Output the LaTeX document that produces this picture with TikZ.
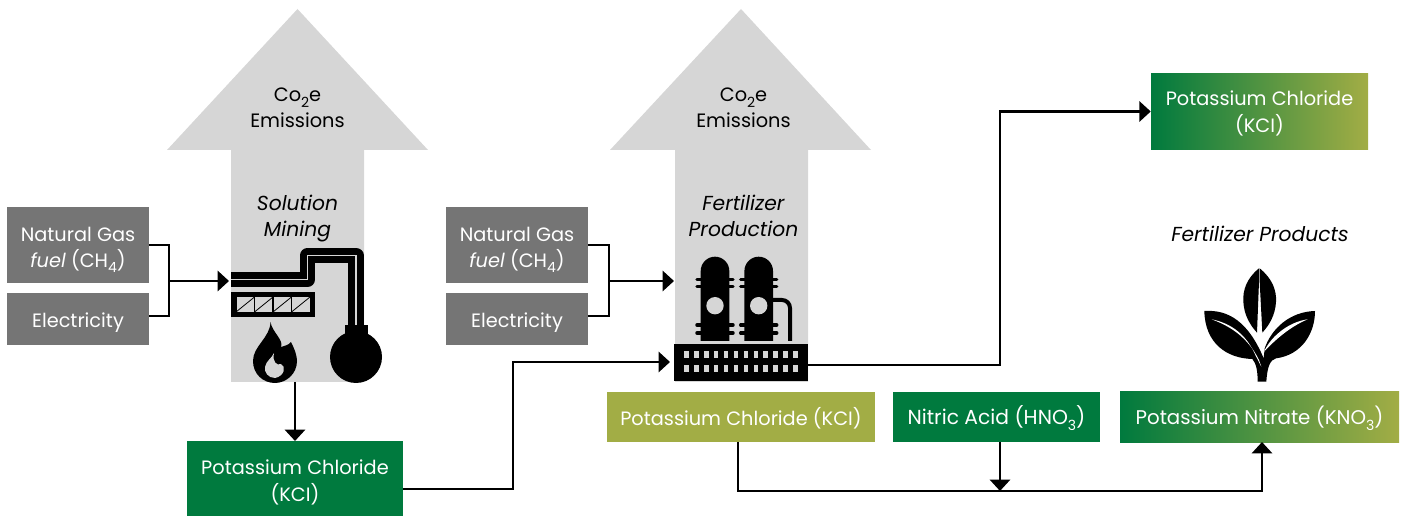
\documentclass[tikz,border=0pt]{standalone}
\usepackage{fontspec}
\setmainfont{Poppins}
\usetikzlibrary{arrows.meta}
\definecolor{emitgray}{HTML}{D6D6D6}
\definecolor{inputgray}{HTML}{757575}
\definecolor{kclgreen}{HTML}{007A3E}
\definecolor{kclolive}{HTML}{A2AD45}
\newcommand{\lowsub}[1]{\raisebox{-.5ex}{\fontsize{10.5}{10.5}\selectfont #1}}
\tikzset{
  firstline/.style={execute at begin node={\rule{0pt}{#1}}},
  label/.style={font=\fontsize{14.5}{19.5}\selectfont,align=center,text=black,inner sep=0pt,firstline=16pt},
  tasklabel/.style={label,font=\fontsize{15.2}{19.5}\selectfont\itshape},
  boxlabel/.style={label,text=white},
  inputbox/.style={boxlabel,fill=inputgray,minimum width=106.5pt},
  greenbox/.style={boxlabel,fill=kclgreen},
  olivebox/.style={boxlabel,fill=kclolive},
  fadebox/.style={boxlabel,left color=kclgreen,right color=kclolive},
  flow/.style={line width=2.1pt,black},
  flowarrow/.style={flow,-{Triangle[length=8.5pt,width=15pt]}},
  emission/.style={fill=emitgray,draw=none}
}
\begin{document}
\begin{tikzpicture}[x=.75pt,y=-.75pt]
\useasboundingbox (0,0) rectangle (1410,516);
% emission arrows
\fill[emission] (297.5,9)--(428,150)--(364,150)--(364,382)--(231,382)--(231,150)--(167,150)--cycle;
\fill[emission] (741,9)--(871,150)--(808,150)--(808,382)--(675,382)--(675,150)--(610,150)--cycle;
\node[label] (co1) at (297.5,108) {Co\lowsub{2}e\\Emissions};
\node[label] (co2) at (743.5,108) {Co\lowsub{2}e\\Emissions};
\node[tasklabel] (mininglabel) at (297.5,218.5) {Solution\\Mining};
\node[tasklabel] (prodlabel) at (743.5,215.5) {Fertilizer\\Production};
\node[tasklabel] (prodlist) at (1260,231) {Fertilizer Products};
% input boxes
\node[inputbox,firstline=38pt,minimum height=57pt] (gas1) at (78,245) {Natural Gas\\\textit{fuel} (CH\lowsub{4})};
\node[inputbox,minimum height=39pt] (elec1) at (78,319) {Electricity};
\node[inputbox,firstline=38pt,minimum height=57pt] (gas2) at (517,245) {Natural Gas\\\textit{fuel} (CH\lowsub{4})};
\node[inputbox,minimum height=39pt] (elec2) at (517,319) {Electricity};
% product boxes
\node[greenbox,firstline=37.5pt,font=\fontsize{14.5}{20.5}\selectfont,minimum width=162pt,minimum height=56.25pt] (kcl1) at (295,478.5) {Potassium Chloride\\(KCI)};
\node[fadebox,firstline=34.5pt,font=\fontsize{14.5}{20.5}\selectfont,minimum width=162.75pt,minimum height=57.25pt] (kcl2) at (1259.5,111.5) {Potassium Chloride\\(KCI)};
\node[olivebox,minimum width=201pt,minimum height=37.5pt] (kcl3) at (741,417) {Potassium Chloride (KCI)};
\node[greenbox,font=\fontsize{15.2}{19.5}\selectfont,minimum width=155.25pt,minimum height=37.5pt] (nitric) at (996.5,417) {Nitric Acid (HNO\lowsub{3})};
\node[fadebox,font=\fontsize{14.85}{19.5}\selectfont,minimum width=209.25pt,minimum height=37.5pt] (kno) at (1259.5,417) {Potassium Nitrate (KNO\lowsub{3})};
% mining icon
\begin{scope}
\draw[line width=11.5pt,line join=round,black] (231,279.5)-|(307.5,255.5)-|(356,326);
\draw[line width=1.4pt,emitgray] (231,279.5)-|(307.5,255.5)-|(356,326);
\fill[black] (231,292) rectangle (315,317);
\fill[emitgray] (236,297) rectangle (310,312);
\foreach \x in {236,254.5,273,291.5}{
  \draw[black,line width=.6pt] (\x,312)--(\x+18.5,297);
  \draw[black,line width=.8pt] (\x,297)--(\x,312);
}
\fill[black] (345,325) rectangle (368,336);
\fill[black] (356,357) circle [radius=26];
% flame
\fill[black] (270.5,322) .. controls (272,332) and (284,340) .. (281,347)
  .. controls (284,346) and (289,345) .. (291,342)
  .. controls (295,350) and (297,356) .. (297,361)
  .. controls (297,374) and (286,383) .. (275,383)
  .. controls (263,383) and (253,374) .. (253,361)
  .. controls (253,346) and (270,338) .. (270.5,322) -- cycle;
\fill[emitgray] (274,353) .. controls (272,362) and (277,366) .. (281,364)
  .. controls (286,366) and (285,376) .. (275,378)
  .. controls (268,378) and (264,372) .. (265,367)
  .. controls (266,361) and (272,358) .. (274,353) -- cycle;
\end{scope}
% production icon
\begin{scope}
\foreach \x in {715,758.7}{
  \fill[black] (\x-14.3,341)--(\x-14.3,271) arc [start angle=180,end angle=0,x radius=14.3,y radius=-14.3]--(\x+14.3,341)--cycle;
  \foreach \y in {279.3,286.7,325,333}
    \draw[black,line width=2.6pt,line cap=round] (\x-18,\y)--(\x+18,\y);
  \fill[emitgray] (\x,305.7) circle [radius=8.7];
}
\draw[black,line width=3pt,rounded corners=6] (773,300)--(790,300)--(790,341);
\fill[black] (674,344) rectangle (808,381.5);
\foreach \x in {0,...,11}
  \foreach \y in {350.7,365}
    \fill[emitgray] (684+\x*9.93,\y) rectangle +(4.7,7.3);
\end{scope}
% plant icon
\begin{scope}[shift={(1120,210)},scale=1/3]
\fill[black] (417,175) .. controls (380,205) and (368,240) .. (370,275)
  .. controls (372,315) and (390,345) .. (411,368) -- (417,215) -- cycle;
\fill[black] (419,175) .. controls (456,205) and (470,240) .. (468,275)
  .. controls (466,315) and (448,345) .. (427,368) -- (419,215) -- cycle;
\fill[black] (253,303) .. controls (325,298) and (385,335) .. (431,445)
  -- (434,415) .. controls (455,355) and (510,305) .. (585,303)
  .. controls (585,370) and (545,435) .. (468,445)
  .. controls (450,450) and (442,470) .. (439,515)
  -- (413,515) .. controls (413,480) and (408,460) .. (397,447)
  .. controls (320,445) and (255,400) .. (253,303) -- cycle;
\fill[white] (275,328) .. controls (335,340) and (380,375) .. (407,437)
  -- (424,470) -- (417,450) .. controls (385,385) and (335,350) .. (275,328) -- cycle;
\fill[white] (563,328) .. controls (510,335) and (455,375) .. (432,425)
  .. controls (465,390) and (510,350) .. (563,328) -- cycle;
\end{scope}
% connectors
\coordinate (miningin) at (229,281);
\coordinate (miningout) at (295,382);
\coordinate (prodin) at (674,281);
\coordinate (prodkcl) at (670,362);
\coordinate (prodout) at (808,365);
\draw[flow,line join=miter] (gas1.east)-|(169,316)--(149,316);
\draw[flowarrow] (169,281)--(miningin);
\draw[flow] (gas2.east)-|(609,316)--(588,316);
\draw[flowarrow] (609,281)--(prodin);
\draw[flowarrow] (miningout)--(295,441);
\draw[flowarrow] (kcl1.east|-0,489)-|(513,425)|-(prodkcl);
\draw[flowarrow] (prodout)-|(1000,200)|-(kcl2.west);
\coordinate (split) at (1000,491);
\draw[flowarrow] (738,442)|-(split)-|(1262,442);
\draw[flowarrow] (1000,442)--(split);
\end{tikzpicture}
\end{document}
